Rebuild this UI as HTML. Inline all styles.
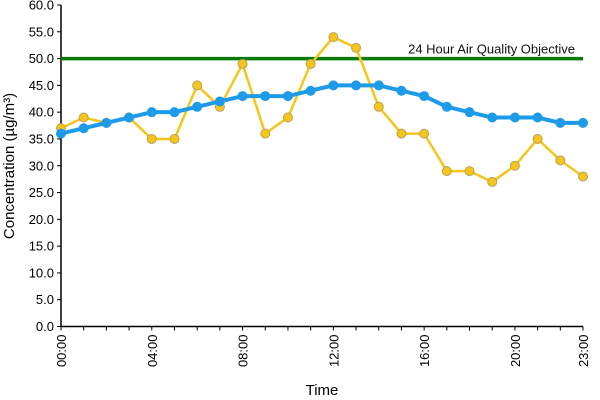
<!DOCTYPE html>
<html><head><meta charset="utf-8"><style>
body{margin:0;background:#fff;}
svg{display:block;font-family:"Liberation Sans",Arial,sans-serif;}
</style></head><body>
<svg width="600" height="400">
<g id="axes"></g><g id="series"></g>
</svg>
<script>
const hours=["00:00","01:00","02:00","03:00","04:00","05:00","06:00","07:00","08:00","09:00","10:00","11:00","12:00","13:00","14:00","15:00","16:00","17:00","18:00","19:00","20:00","21:00","22:00","23:00"];
const blueValues=[36,37,38,39,40,40,41,42,43,43,43,44,45,45,45,44,43,41,40,39,39,39,38,38];
const yellowValues=[37,39,38,39,35,35,45,41,49,36,39,49,54,52,41,36,36,29,29,27,30,35,31,28];
const objectiveValue=[50];
const yTicks=[0,5,10,15,20,25,30,35,40,45,50,55,60];
const xTickLabels=["00:00","04:00","08:00","12:00","16:00","20:00","23:00"];
const NS="http://www.w3.org/2000/svg";
const svg=document.querySelector("svg"),ax=document.getElementById("axes"),se=document.getElementById("series");
const x0=61,x1=583,yTop=5,yBot=326.5;
function xs(i){return x0+(x1-x0)*i/(hours.length-1);}
function ys(v){return yBot-(yBot-yTop)*v/60;}
function mk(p,tag,a){const e=document.createElementNS(NS,tag);for(const k in a)e.setAttribute(k,a[k]);p.appendChild(e);return e;}
let e;
e=mk(ax,"line",{x1:x0,y1:yTop,x2:x0,y2:yBot,stroke:"#000","stroke-width":1.5});


e=mk(ax,"line",{x1:x0,y1:yBot,x2:x1,y2:yBot,stroke:"#000","stroke-width":1.5});


yTicks.forEach(v=>{
 mk(ax,"line",{x1:x0-4,y1:ys(v),x2:x0,y2:ys(v),stroke:"#000"});
 e=mk(ax,"text",{x:x0-7,y:ys(v)+4.5,"text-anchor":"end","font-size":13,fill:"#000"});
 e.textContent=v.toFixed(1);
 
 
});
hours.forEach((h,i)=>{mk(ax,"line",{x1:xs(i),y1:yBot,x2:xs(i),y2:yBot+4,stroke:"#000"});});
xTickLabels.forEach(l=>{
 const i=hours.indexOf(l);
 e=mk(ax,"text",{transform:`translate(${xs(i)+5},${yBot+8}) rotate(-90)`,"text-anchor":"end","font-size":13,fill:"#000"});
 e.textContent=l;
 
 
});
e=mk(ax,"text",{x:322,y:395,"text-anchor":"middle","font-size":15,fill:"#000"});e.textContent="Time";


e=mk(ax,"text",{transform:"translate(14,166) rotate(-90)","text-anchor":"middle","font-size":15,fill:"#000"});e.textContent="Concentration (µg/m³)";


e=mk(se,"line",{x1:x0,y1:ys(objectiveValue[0]),x2:x1,y2:ys(objectiveValue[0]),stroke:"#0a7a0a","stroke-width":3.5});


e=mk(se,"text",{x:575,y:ys(objectiveValue[0])-5,"text-anchor":"end","font-size":13,fill:"#111"});e.textContent="24 Hour Air Quality Objective";


function series(vals,col,w,r,stroke,name){
 const pts=vals.map((v,i)=>xs(i)+","+ys(v)).join(" ");
 e=mk(se,"polyline",{points:pts,fill:"none",stroke:col,"stroke-width":w,"stroke-linejoin":"round"});
 
 
 vals.forEach((v,i)=>{
  e=mk(se,"circle",{cx:xs(i),cy:ys(v),r:r,fill:col,stroke:stroke,"stroke-width":1});
  
  
 });
}
series(yellowValues,"#f5c518",2.5,4.5,"#b8a060","yellow-series");
series(blueValues,"#1e9be8",4,4.5,"#1e9be8","blue-series");
</script>
</body></html>
